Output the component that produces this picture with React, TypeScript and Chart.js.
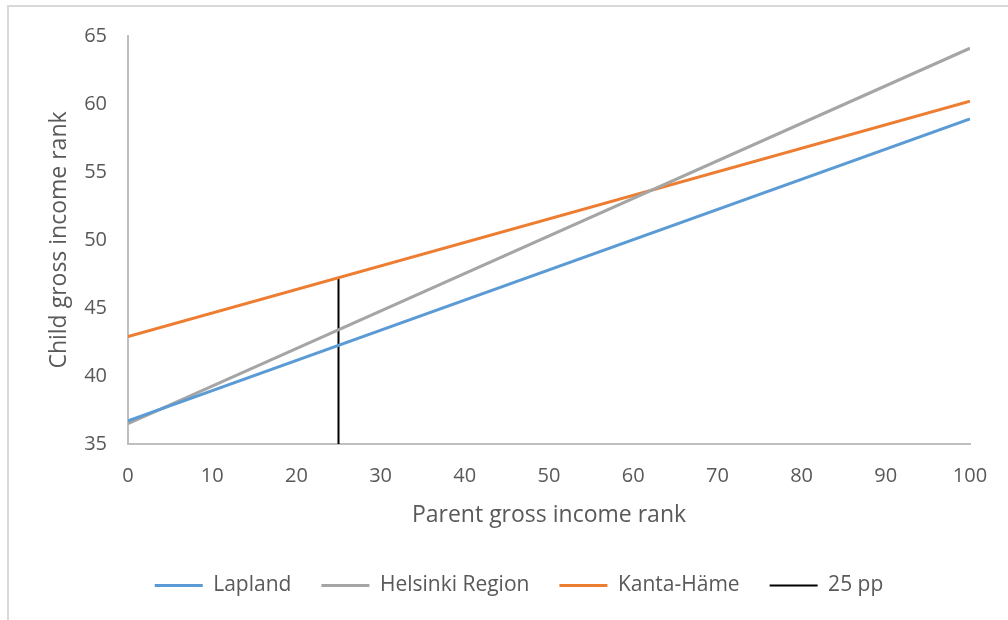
import React, { useEffect, useRef } from "react";
import { Chart, registerables } from "chart.js";

Chart.register(...registerables);

const xEnds = [0, 100];
const lapland = [36.7, 58.9];
const helsinki = [36.5, 64.1];
const kantaHame = [42.9, 60.2];
const ppX = [25, 25];
const ppY = [35, 47.2];

const seriesNames = ["Lapland", "Helsinki Region", "Kanta-Häme", "25 pp"];
const xTitle = "Parent gross income rank";
const yTitle = "Child gross income rank";

const FONT = "'Open Sans', 'DejaVu Sans', sans-serif";
const TEXT = "#595959";

export default function App() {
  const ref = useRef<HTMLCanvasElement | null>(null);

  useEffect(() => {
    if (!ref.current) return;
    const pts = (xs: number[], ys: number[]) => xs.map((x, i) => ({ x, y: ys[i] }));
    const chart = new Chart(ref.current, {
      type: "line",
      data: {
        datasets: [
          { label: seriesNames[0], data: pts(xEnds, lapland), borderColor: "#5b9bd5", backgroundColor: "#5b9bd5", borderWidth: 3, pointRadius: 0 },
          { label: seriesNames[1], data: pts(xEnds, helsinki), borderColor: "#a5a5a5", backgroundColor: "#a5a5a5", borderWidth: 3, pointRadius: 0 },
          { label: seriesNames[2], data: pts(xEnds, kantaHame), borderColor: "#ed7d31", backgroundColor: "#ed7d31", borderWidth: 3, pointRadius: 0 },
          { label: seriesNames[3], data: pts(ppX, ppY), borderColor: "#000000", backgroundColor: "#000000", borderWidth: 2, pointRadius: 0 },
        ],
      },
      options: {
        responsive: false,
        animation: false,
        devicePixelRatio: 1,
        layout: { padding: { left: 68, right: 38, top: 36, bottom: 14 } },
        plugins: {
          tooltip: { enabled: false },
          legend: {
            position: "bottom",
            labels: {
              usePointStyle: true,
              pointStyle: "line",
              pointStyleWidth: 48,
              boxHeight: 21,
              padding: 30,
              color: TEXT,
              font: { family: FONT, size: 21 },
            },
          },
        },
        scales: {
          x: {
            type: "linear",
            min: 0,
            max: 100,
            grid: { display: false, drawTicks: false },
            border: { display: true, color: "#bfbfbf", width: 2 },
            ticks: { stepSize: 10, padding: 20, color: TEXT, font: { family: FONT, size: 20 }, maxRotation: 0 },
            title: { display: true, text: xTitle, color: TEXT, font: { family: FONT, size: 23 }, padding: { top: 0, bottom: 16 } },
            afterFit: (s: any) => { s.height = 101; },
          },
          y: {
            type: "linear",
            min: 35,
            max: 65,
            grid: { display: false, drawTicks: false },
            border: { display: true, color: "#bfbfbf", width: 2 },
            ticks: { stepSize: 5, padding: 21, color: TEXT, font: { family: FONT, size: 20 } },
            title: { display: true, text: yTitle, color: TEXT, font: { family: FONT, size: 23 }, padding: { top: -22, bottom: 0 } },
            afterFit: (s: any) => { s.width = 60; },
          },
        },
      },
    });
    return () => chart.destroy();
  }, []);

  return (
    <div style={{ position: "fixed", left: 0, top: 0, width: 1008, height: 620, background: "#ffffff" }}>
      <div
        style={{
          position: "absolute",
          left: 7,
          top: 5,
          width: 1001,
          height: 615,
          borderTop: "2px solid #d9d9d9",
          borderLeft: "2px solid #d9d9d9",
          boxSizing: "border-box",
        }}
      />
      <canvas ref={ref} width={1008} height={620} style={{ position: "absolute", left: 0, top: 0 }} />
    </div>
  );
}
